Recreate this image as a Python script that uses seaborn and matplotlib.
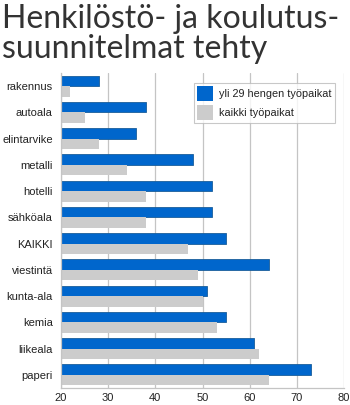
import matplotlib
matplotlib.use("Agg")
import matplotlib.pyplot as plt
import seaborn as sns
import pandas as pd

categories = ["rakennus", "autoala", "elintarvike", "metalli", "hotelli", "sähköala",
              "KAIKKI", "viestintä", "kunta-ala", "kemia", "liikeala", "paperi"]
series_names = ["yli 29 hengen työpaikat", "kaikki työpaikat"]
yli29 = [28, 38, 36, 48, 52, 52, 55, 64, 51, 55, 61, 73]
kaikki = [22, 25, 28, 34, 38, 38, 47, 49, 50, 53, 62, 64]
xticks = [20, 30, 40, 50, 60, 70, 80]
title = "Henkilöstö- ja koulutus-\nsuunnitelmat tehty"

df = pd.DataFrame({
    "kategoria": categories * 2,
    "sarja": [series_names[0]] * len(categories) + [series_names[1]] * len(categories),
    "arvo": yli29 + kaikki,
})

sns.set_style("white")
plt.rcParams["font.family"] = ["Liberation Sans", "DejaVu Sans"]

fig = plt.figure(figsize=(3.5, 4.05), dpi=100)
ax = fig.add_axes([61 / 350, (405 - 388) / 405, (344 - 61) / 350, (388 - 73) / 405])

palette = {series_names[0]: "#0066cc", series_names[1]: "#cccccc"}
sns.barplot(data=df, y="kategoria", x="arvo", hue="sarja", order=categories,
            hue_order=series_names, palette=palette, orient="h", width=0.8,
            saturation=1, ax=ax, linewidth=0)
for p in ax.patches[:len(categories)]:
    p.set_edgecolor("#1a5e9a")
    p.set_linewidth(0.6)

ax.set_xlim(20, 80)
ax.set_xticks(xticks)
ax.set_xticklabels([str(t) for t in xticks], fontsize=8, color="#222222")
ax.tick_params(axis="y", labelsize=8, colors="#222222", length=0, pad=6)
ax.tick_params(axis="x", length=0, pad=3.5)
ax.set_xlabel("")
ax.set_ylabel("")
ax.grid(axis="x", color="#c4c4c4", linewidth=0.9)
ax.set_axisbelow(True)
for s in ["top", "right"]:
    ax.spines[s].set_visible(False)
for s in ["left", "bottom"]:
    ax.spines[s].set_color("#c4c4c4")
    ax.spines[s].set_linewidth(0.9)

leg = ax.legend(loc="upper right", bbox_to_anchor=(0.975, 0.975), fontsize=7.8,
                frameon=True, fancybox=False, edgecolor="#bbbbbb", handlelength=1.4,
                handleheight=1.7, handletextpad=0.6, labelspacing=0.4,
                borderpad=0.3, borderaxespad=0.2, title=None)
leg.get_frame().set_linewidth(0.8)
for t in leg.get_texts():
    t.set_color("#222222")

fig.text(0.005, 0.99, title, ha="left", va="top", fontsize=23, color="#333333",
         family=["Lato", "DejaVu Sans"], linespacing=0.98)

fig.savefig("out.png", dpi=100)
